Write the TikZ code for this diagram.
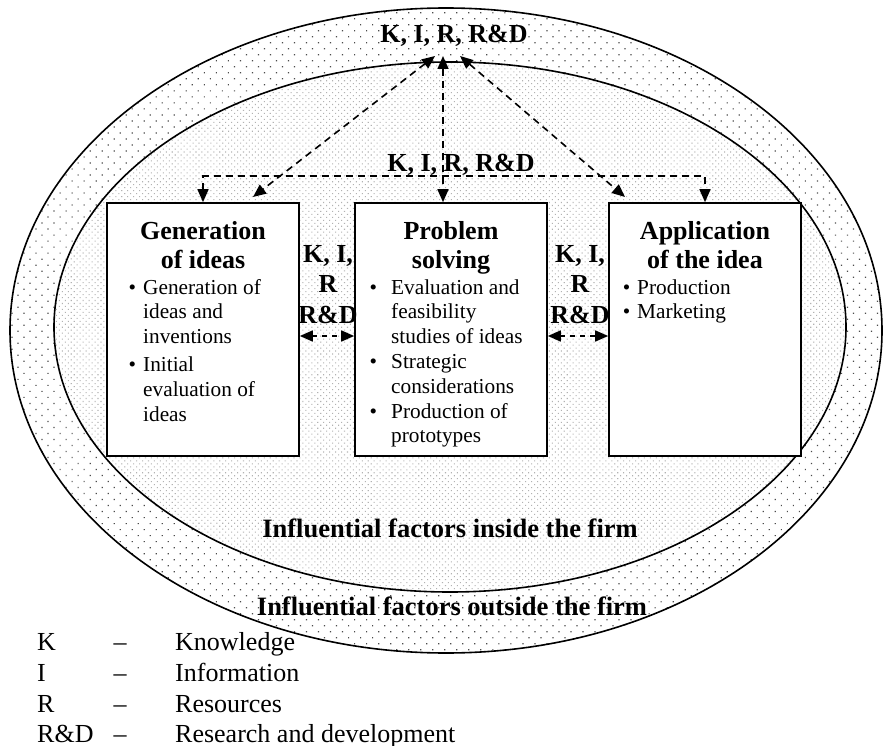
\documentclass[tikz,border=0pt]{standalone}
\usepackage{fontspec}
\setmainfont{Liberation Serif}
\usetikzlibrary{arrows.meta,patterns.meta}
\newcommand\bul[1]{\noindent\llap{\textbullet\hspace{#1}}}
\begin{document}
\begin{tikzpicture}[x=1pt,y=-1pt,
  ring/.style={draw, line width=1.6pt},
  stage/.style={draw, fill=white, line width=1.6pt, minimum width=192pt, minimum height=253pt, inner sep=0pt},
  head/.style={font=\fontsize{26}{29}\selectfont\bfseries, align=flush center, text width=190pt, inner sep=0pt, anchor=base},
  body/.style={font=\fontsize{21.3}{24.8}\selectfont, align=flush left, text width=160pt, inner sep=0pt, anchor=base west},
  flow/.style={line width=1.6pt, dash pattern=on 7pt off 5pt, {Triangle[length=13pt,width=11pt]}-{Triangle[length=13pt,width=11pt]}},
  tag/.style={font=\fontsize{26}{30.5}\selectfont\bfseries, align=flush center, text width=70pt, inner sep=0pt, anchor=base},
  zone/.style={font=\fontsize{26.5}{30}\selectfont\bfseries, inner sep=0pt, anchor=base},
  legend/.style={font=\fontsize{26}{31}\selectfont, inner sep=0pt, anchor=base west}
]
\useasboundingbox (0,0) rectangle (883,746);

% outer environment (sparse dots) and the firm (dense dots)
\fill[white] (446,330.5) ellipse [x radius=436, y radius=322.5];
\fill[pattern={Dots[distance=8.5pt,radius=0.85pt,angle=45]}, pattern color=black!70]
  (446,330.5) ellipse [x radius=436, y radius=322.5];
\fill[white] (450,327) ellipse [x radius=396, y radius=265];
\fill[pattern={Dots[distance=4.2pt,radius=0.75pt,angle=45]}, pattern color=black!30]
  (450,327) ellipse [x radius=396, y radius=265];
\draw[ring] (446,330.5) ellipse [x radius=436, y radius=322.5];
\draw[ring] (450,327) ellipse [x radius=396, y radius=265];

% the three stages
\node[stage] (gen)  at (203,329.5) {};
\node[stage] (prob) at (451,329.5) {};
\node[stage] (app)  at (705,329.5) {};

\node[head] (genH)  at (203,239) {Generation\\of ideas};
\node[head] (probH) at (451,239) {Problem\\solving};
\node[head] (appH)  at (705,239) {Application\\of the idea};

\node[body] (genB) at (143,294) {\bul{7pt}Generation of\\ideas and\\inventions\\[3pt]
  \bul{7pt}Initial\\evaluation of\\ideas};
\node[body] (probB) at (391,294) {\bul{14pt}Evaluation and\\feasibility\\studies of ideas\\
  \bul{14pt}Strategic\\considerations\\
  \bul{14pt}Production of\\prototypes};
\node[body] (appB) at (637,294) {\bul{7pt}Production\\
  \bul{7pt}Marketing};

% exchanged knowledge, information, resources, R&D
\node[tag, text width=200pt] (kirTop) at (454,43)  {K, I, R, R\&D};
\node[tag, text width=200pt] (kirMid) at (461,172) {K, I, R, R\&D};
\node[tag] (kirA) at (328,262) {K, I,\\R\\R\&D};
\node[tag] (kirB) at (580,262) {K, I,\\R\\R\&D};

\coordinate (apexL) at (435,56);
\coordinate (apexM) at (443,56);
\coordinate (apexR) at (460,56);
\coordinate (genT) at (253,197);
\coordinate (appT) at (625,197);

\draw[flow] (apexL) -- (genT);
\draw[flow] (apexR) -- (appT);
\draw[flow] (apexM) -- (apexM |- prob.north);
\draw[flow] (gen.north) -- ++(0,-26) -| (app.north);
\draw[flow, dash pattern=on 5pt off 5pt] ([yshift=-6.5pt]gen.east) -- ([yshift=-6.5pt]prob.west);
\draw[flow, dash pattern=on 5pt off 5pt] ([yshift=-6.5pt]prob.east) -- ([yshift=-6.5pt]app.west);

% ring captions
\node[zone] (inside)  at (450,537) {Influential factors inside the firm};
\node[zone] (outside) at (452,615) {Influential factors outside the firm};

% legend
\node[legend] (lK) at (37,650) {K};
\node[legend] (lI) at (37,681) {I};
\node[legend] (lR) at (37,712) {R};
\node[legend] (lRD) at (37,742) {R\&D};
\foreach \yy/\nm in {650/dK,681/dI,712/dR,742/dRD}
  \node[legend, anchor=base] (\nm) at (120,\yy) {--};
\node[legend] (tK) at (175,650) {Knowledge};
\node[legend] (tI) at (175,681) {Information};
\node[legend] (tR) at (175,712) {Resources};
\node[legend] (tRD) at (175,742) {Research and development};
\end{tikzpicture}
\end{document}
